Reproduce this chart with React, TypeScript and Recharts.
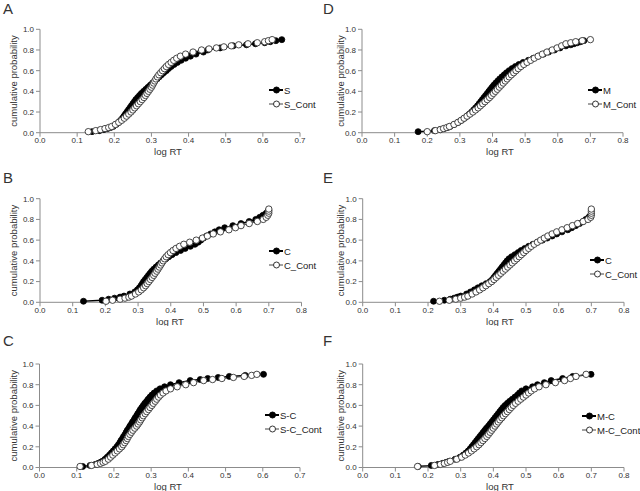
import React from 'react';
import { LineChart, Line, XAxis, YAxis, Legend } from 'recharts';

const FONT = '"Liberation Sans", Arial, Helvetica, sans-serif';

// shared cumulative-probability levels of the body of each curve
const P = [0.01, 0.02, 0.03, 0.04, 0.05, 0.06, 0.08, 0.10, 0.12, 0.14, 0.16, 0.18, 0.20, 0.22, 0.24, 0.26, 0.28, 0.30, 0.32, 0.34, 0.36, 0.38, 0.40, 0.42, 0.44, 0.46, 0.48, 0.50, 0.52, 0.54, 0.56, 0.58, 0.60, 0.62, 0.64, 0.66, 0.68, 0.70, 0.72, 0.74, 0.76, 0.78];

const ticks07 = [0, 0.1, 0.2, 0.3, 0.4, 0.5, 0.6, 0.7];
const ticks08 = [0, 0.1, 0.2, 0.3, 0.4, 0.5, 0.6, 0.7, 0.8];
const yTicks = [0, 0.2, 0.4, 0.6, 0.8, 1.0];

// ---- Panel A : S vs S_Cont
const aS_x = [0.140, 0.160, 0.172, 0.182, 0.190, 0.197, 0.205, 0.212, 0.217, 0.222, 0.226, 0.230, 0.234, 0.238, 0.242, 0.246, 0.250, 0.254, 0.258, 0.263, 0.268, 0.273, 0.279, 0.285, 0.291, 0.297, 0.303, 0.309, 0.315, 0.321, 0.327, 0.333, 0.340, 0.346, 0.353, 0.361, 0.370, 0.380, 0.392, 0.405, 0.420, 0.440, 0.452, 0.485, 0.520, 0.556, 0.580, 0.605, 0.620, 0.635, 0.651];
const aS_tail = [0.80, 0.82, 0.84, 0.85, 0.86, 0.87, 0.88, 0.89, 0.90];
const aC_x = [0.130, 0.150, 0.163, 0.175, 0.185, 0.193, 0.203, 0.212, 0.220, 0.227, 0.233, 0.239, 0.245, 0.250, 0.255, 0.260, 0.265, 0.270, 0.275, 0.280, 0.284, 0.288, 0.292, 0.296, 0.300, 0.303, 0.306, 0.309, 0.312, 0.316, 0.320, 0.325, 0.330, 0.335, 0.340, 0.346, 0.353, 0.360, 0.368, 0.378, 0.392, 0.412, 0.435, 0.455, 0.475, 0.495, 0.515, 0.535, 0.560, 0.585, 0.605, 0.615, 0.625];
const aC_tail = [0.80, 0.81, 0.82, 0.83, 0.84, 0.85, 0.86, 0.87, 0.88, 0.89, 0.90];

// ---- Panel D : M vs M_Cont
const dM_x = [0.172, 0.222, 0.240, 0.252, 0.262, 0.270, 0.283, 0.295, 0.305, 0.314, 0.322, 0.329, 0.336, 0.342, 0.348, 0.354, 0.359, 0.364, 0.369, 0.374, 0.379, 0.384, 0.389, 0.394, 0.399, 0.404, 0.410, 0.416, 0.422, 0.429, 0.436, 0.443, 0.451, 0.460, 0.470, 0.481, 0.494, 0.510, 0.525, 0.540, 0.556, 0.572, 0.590, 0.607, 0.625, 0.640, 0.650, 0.660, 0.670, 0.680];
const dM_tail = [0.80, 0.82, 0.84, 0.85, 0.86, 0.87, 0.88, 0.89];
const dC_x = [0.200, 0.225, 0.240, 0.250, 0.260, 0.268, 0.282, 0.294, 0.304, 0.313, 0.322, 0.331, 0.340, 0.348, 0.356, 0.363, 0.370, 0.377, 0.384, 0.391, 0.397, 0.403, 0.409, 0.415, 0.421, 0.427, 0.433, 0.439, 0.445, 0.451, 0.458, 0.465, 0.472, 0.479, 0.487, 0.496, 0.506, 0.517, 0.528, 0.540, 0.553, 0.567, 0.583, 0.598, 0.612, 0.625, 0.640, 0.655, 0.675, 0.700];
const dC_tail = [0.80, 0.82, 0.84, 0.86, 0.87, 0.88, 0.89, 0.90];

// ---- Panel B : C vs C_Cont
const bC_x = [0.133, 0.190, 0.210, 0.228, 0.245, 0.257, 0.275, 0.290, 0.298, 0.304, 0.309, 0.313, 0.317, 0.322, 0.327, 0.332, 0.337, 0.342, 0.348, 0.355, 0.362, 0.369, 0.377, 0.385, 0.394, 0.404, 0.416, 0.430, 0.444, 0.460, 0.474, 0.484, 0.492, 0.500, 0.510, 0.522, 0.535, 0.548, 0.565, 0.590, 0.615, 0.640, 0.660, 0.672, 0.682, 0.692, 0.698, 0.700];
const bC_tail = [0.80, 0.82, 0.84, 0.86, 0.88, 0.89];
const bK_x = [0.202, 0.222, 0.245, 0.260, 0.272, 0.280, 0.292, 0.302, 0.310, 0.317, 0.323, 0.328, 0.333, 0.338, 0.343, 0.348, 0.352, 0.357, 0.361, 0.365, 0.369, 0.373, 0.377, 0.381, 0.386, 0.392, 0.399, 0.407, 0.416, 0.427, 0.440, 0.458, 0.478, 0.497, 0.512, 0.530, 0.552, 0.578, 0.598, 0.615, 0.640, 0.665, 0.683, 0.692, 0.697, 0.700, 0.700, 0.700];
const bK_tail = [0.80, 0.82, 0.84, 0.86, 0.88, 0.90];

// ---- Panel E : C vs C_Cont
const eC_x = [0.217, 0.250, 0.268, 0.280, 0.290, 0.300, 0.318, 0.330, 0.342, 0.353, 0.365, 0.378, 0.390, 0.397, 0.402, 0.407, 0.412, 0.417, 0.422, 0.427, 0.432, 0.437, 0.442, 0.448, 0.456, 0.466, 0.476, 0.485, 0.496, 0.508, 0.521, 0.535, 0.550, 0.565, 0.580, 0.594, 0.610, 0.628, 0.640, 0.652, 0.664, 0.675, 0.683, 0.692, 0.698, 0.700];
const eC_tail = [0.80, 0.82, 0.84, 0.85];
const eK_x = [0.235, 0.265, 0.285, 0.300, 0.312, 0.322, 0.335, 0.347, 0.358, 0.368, 0.377, 0.386, 0.395, 0.402, 0.409, 0.416, 0.423, 0.430, 0.437, 0.444, 0.451, 0.458, 0.465, 0.472, 0.479, 0.486, 0.493, 0.500, 0.508, 0.516, 0.525, 0.535, 0.545, 0.556, 0.567, 0.580, 0.594, 0.610, 0.626, 0.642, 0.658, 0.675, 0.690, 0.698, 0.700, 0.700, 0.700, 0.700];
const eK_tail = [0.80, 0.82, 0.84, 0.86, 0.88, 0.90];

// ---- Panel C : S-C vs S-C_Cont
const cS_x = [0.116, 0.136, 0.150, 0.158, 0.164, 0.169, 0.176, 0.182, 0.188, 0.193, 0.198, 0.203, 0.208, 0.212, 0.216, 0.219, 0.223, 0.226, 0.230, 0.233, 0.236, 0.240, 0.243, 0.247, 0.250, 0.254, 0.257, 0.261, 0.264, 0.268, 0.271, 0.275, 0.279, 0.283, 0.288, 0.292, 0.297, 0.302, 0.308, 0.315, 0.324, 0.336, 0.352, 0.375, 0.405, 0.432, 0.452, 0.480, 0.510, 0.553, 0.602];
const cS_tail = [0.80, 0.82, 0.84, 0.85, 0.86, 0.87, 0.88, 0.89, 0.90];
const cK_x = [0.109, 0.140, 0.155, 0.164, 0.171, 0.177, 0.185, 0.191, 0.197, 0.203, 0.209, 0.215, 0.221, 0.225, 0.229, 0.233, 0.236, 0.239, 0.243, 0.247, 0.251, 0.256, 0.261, 0.265, 0.269, 0.272, 0.276, 0.279, 0.284, 0.288, 0.293, 0.297, 0.302, 0.306, 0.311, 0.315, 0.320, 0.325, 0.332, 0.340, 0.352, 0.370, 0.393, 0.414, 0.441, 0.465, 0.490, 0.521, 0.550, 0.570, 0.584];
const cK_tail = [0.80, 0.82, 0.84, 0.85, 0.86, 0.87, 0.88, 0.89, 0.90];

// ---- Panel F : M-C vs M-C_Cont
const fM_x = [0.170, 0.210, 0.230, 0.245, 0.256, 0.265, 0.283, 0.298, 0.308, 0.316, 0.323, 0.329, 0.334, 0.339, 0.344, 0.349, 0.354, 0.359, 0.364, 0.369, 0.374, 0.379, 0.385, 0.390, 0.395, 0.400, 0.405, 0.410, 0.415, 0.420, 0.425, 0.430, 0.436, 0.443, 0.450, 0.458, 0.466, 0.474, 0.480, 0.487, 0.500, 0.520, 0.535, 0.556, 0.577, 0.612, 0.643, 0.699];
const fM_tail = [0.80, 0.82, 0.84, 0.86, 0.88, 0.90];
const fK_x = [0.168, 0.220, 0.238, 0.250, 0.260, 0.268, 0.288, 0.303, 0.314, 0.324, 0.333, 0.341, 0.349, 0.356, 0.362, 0.368, 0.374, 0.380, 0.385, 0.390, 0.395, 0.400, 0.405, 0.410, 0.415, 0.420, 0.426, 0.431, 0.437, 0.443, 0.449, 0.455, 0.461, 0.468, 0.476, 0.484, 0.492, 0.500, 0.508, 0.516, 0.526, 0.540, 0.561, 0.590, 0.618, 0.636, 0.653, 0.684];
const fK_tail = [0.80, 0.82, 0.84, 0.86, 0.88, 0.90];

const toData = (xs: number[], ys: number[]) => xs.map((x, i) => ({ x, y: ys[i] }));

const XH = 23;
const fmt = (v: number) => v.toFixed(1);

type PanelProps = {
  letter: string;
  letterLeft: number;
  letterTop: number;
  left: number;
  top: number;
  width: number;
  height: number;
  plotLeft: number;
  plotRight: number;
  plotTop: number;
  plotBottom: number;
  xTicks: number[];
  yLabelX: number;
  xLabelX: number;
  legendLeft: number;
  legendTop: number;
  filledName: string;
  openName: string;
  filledData: { x: number; y: number }[];
  openData: { x: number; y: number }[];
};

const LegendBox = ({ filledName, openName }: { filledName: string; openName: string }) => (
  <svg width={60} height={28} style={{ display: 'block', overflow: 'visible' }}>
    <line x1={0} y1={7} x2={14} y2={7} stroke="#000" strokeWidth={2} />
    <circle cx={7.5} cy={7} r={3} fill="#000" stroke="#000" />
    <text x={15} y={7} dominantBaseline="central" fontSize={9.5} fill="#222" fontFamily={FONT}>{filledName}</text>
    <line x1={0} y1={21} x2={14} y2={21} stroke="#444" strokeWidth={1} />
    <circle cx={7.5} cy={21} r={3} fill="#fff" stroke="#333" strokeWidth={1} />
    <text x={15} y={21} dominantBaseline="central" fontSize={9.5} fill="#222" fontFamily={FONT}>{openName}</text>
  </svg>
);

function Panel(p: PanelProps) {
  const margin = {
    top: p.plotTop - p.top,
    right: p.left + p.width - p.plotRight,
    bottom: p.top + p.height - p.plotBottom - XH,
    left: 0,
  };
  const yCx = p.yLabelX - p.left;
  const yCy = (p.plotTop + p.plotBottom) / 2 - p.top;
  const xCx = p.xLabelX - p.left;
  const xCy = p.plotBottom + 19 - p.top;
  const xMax = p.xTicks[p.xTicks.length - 1];
  return (
    <>
      <div
        style={{
          position: 'absolute',
          left: p.letterLeft,
          top: p.letterTop,
          fontSize: 15,
          lineHeight: '15px',
          fontFamily: FONT,
          color: '#333',
        }}
      >
        {p.letter}
      </div>
      <div style={{ position: 'absolute', left: p.left, top: p.top, width: p.width, height: p.height }}>
        <LineChart width={p.width} height={p.height} margin={margin} style={{ overflow: 'visible' }}>
          <XAxis
            type="number"
            dataKey="x"
            domain={[0, xMax]}
            ticks={p.xTicks}
            interval={0}
            tickFormatter={fmt}
            height={XH}
            tickSize={4}
            tickMargin={1}
            stroke="#8c8c8c"
            tick={{ fontSize: 8, fill: '#333', fontFamily: FONT }}
            allowDataOverflow
            label={{
              value: 'log RT',
              content: () => (
                <text x={xCx} y={xCy} textAnchor="middle" dominantBaseline="central" fontSize={9.5} fill="#333" fontFamily={FONT}>
                  log RT
                </text>
              ),
            }}
          />
          <YAxis
            type="number"
            dataKey="y"
            domain={[0, 1]}
            ticks={yTicks}
            interval={0}
            tickFormatter={fmt}
            width={p.plotLeft - p.left}
            tickSize={4}
            tickMargin={2}
            stroke="#8c8c8c"
            tick={{ fontSize: 8, fill: '#333', fontFamily: FONT }}
            label={{
              value: 'cumulative probability',
              content: () => (
                <text
                  x={yCx}
                  y={yCy}
                  transform={`rotate(-90 ${yCx} ${yCy})`}
                  textAnchor="middle"
                  dominantBaseline="central"
                  fontSize={9.5}
                  fill="#333"
                  fontFamily={FONT}
                >
                  cumulative probability
                </text>
              ),
            }}
          />
          <Legend
            layout="vertical"
            align="center"
            verticalAlign="middle"
            wrapperStyle={{ left: p.legendLeft - p.left, top: p.legendTop - p.top, width: 60, height: 28 }}
            content={() => <LegendBox filledName={p.filledName} openName={p.openName} />}
          />
          <Line
            name={p.filledName}
            data={p.filledData}
            dataKey="y"
            type="linear"
            stroke="#000"
            strokeWidth={1.5}
            dot={{ r: 3, fill: '#000', stroke: '#000', strokeWidth: 0.8 }}
            activeDot={false}
            isAnimationActive={false}
          />
          <Line
            name={p.openName}
            data={p.openData}
            dataKey="y"
            type="linear"
            stroke="#555"
            strokeWidth={1}
            dot={{ r: 3.2, fill: '#fff', stroke: '#333', strokeWidth: 0.9 }}
            activeDot={false}
            isAnimationActive={false}
          />
        </LineChart>
      </div>
    </>
  );
}

export default function App() {
  const rowL = { left: 0, width: 320 };
  const rowR = { left: 320, width: 320 };
  return (
    <div
      style={{
        position: 'absolute',
        left: 0,
        top: 0,
        width: 640,
        height: 491,
        background: '#fff',
        overflow: 'hidden',
        fontFamily: FONT,
      }}
    >
      <Panel
        letter="A" letterLeft={3} letterTop={1}
        {...rowL} top={0} height={160}
        plotLeft={40} plotRight={300} plotTop={29.3} plotBottom={132.7}
        xTicks={ticks07} yLabelX={13} xLabelX={168}
        legendLeft={269} legendTop={83}
        filledName="S" openName="S_Cont"
        filledData={toData(aS_x, [...P, ...aS_tail])}
        openData={toData(aC_x, [...P, ...aC_tail])}
      />
      <Panel
        letter="D" letterLeft={323} letterTop={1}
        {...rowR} top={0} height={160}
        plotLeft={362} plotRight={623} plotTop={29.3} plotBottom={132.7}
        xTicks={ticks08} yLabelX={340} xLabelX={500}
        legendLeft={588} legendTop={83}
        filledName="M" openName="M_Cont"
        filledData={toData(dM_x, [...P, ...dM_tail])}
        openData={toData(dC_x, [...P, ...dC_tail])}
      />
      <Panel
        letter="B" letterLeft={3} letterTop={170}
        {...rowL} top={165} height={161}
        plotLeft={40} plotRight={301.5} plotTop={198.7} plotBottom={302.3}
        xTicks={ticks08} yLabelX={13} xLabelX={170}
        legendLeft={269} legendTop={244}
        filledName="C" openName="C_Cont"
        filledData={toData(bC_x, [...P, ...bC_tail])}
        openData={toData(bK_x, [...P, ...bK_tail])}
      />
      <Panel
        letter="E" letterLeft={323} letterTop={170}
        {...rowR} top={165} height={161}
        plotLeft={362.7} plotRight={624} plotTop={198.7} plotBottom={302.3}
        xTicks={ticks08} yLabelX={340} xLabelX={500}
        legendLeft={590} legendTop={253}
        filledName="C" openName="C_Cont"
        filledData={toData(eC_x, [...P, ...eC_tail])}
        openData={toData(eK_x, [...P, ...eK_tail])}
      />
      <Panel
        letter="C" letterLeft={3} letterTop={333}
        {...rowL} top={331} height={160}
        plotLeft={39.5} plotRight={300} plotTop={364} plotBottom={467.5}
        xTicks={ticks07} yLabelX={13} xLabelX={168}
        legendLeft={265} legendTop={408}
        filledName="S-C" openName="S-C_Cont"
        filledData={toData(cS_x, [...P, ...cS_tail])}
        openData={toData(cK_x, [...P, ...cK_tail])}
      />
      <Panel
        letter="F" letterLeft={323} letterTop={333}
        {...rowR} top={331} height={160}
        plotLeft={362.7} plotRight={624} plotTop={364} plotBottom={467.5}
        xTicks={ticks08} yLabelX={340} xLabelX={500}
        legendLeft={582} legendTop={409}
        filledName="M-C" openName="M-C_Cont"
        filledData={toData(fM_x, [...P, ...fM_tail])}
        openData={toData(fK_x, [...P, ...fK_tail])}
      />
    </div>
  );
}
